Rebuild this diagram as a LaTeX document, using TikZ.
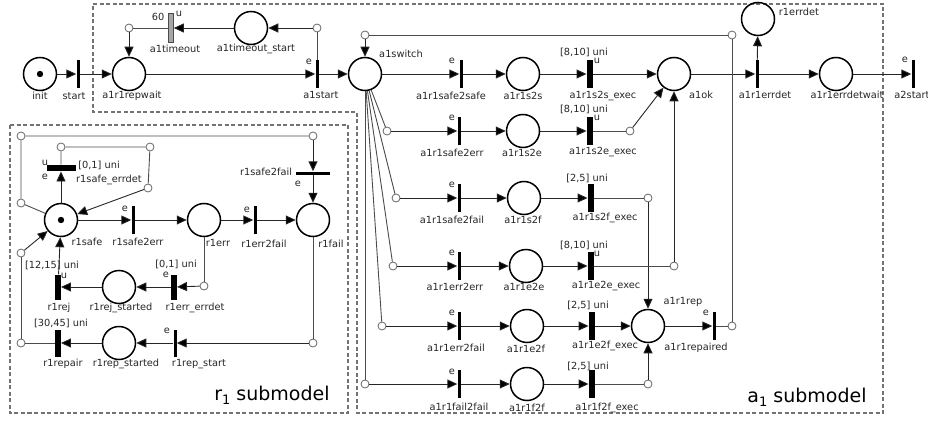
\documentclass[tikz,border=0pt]{standalone}
\usepackage{fontspec}
\setmainfont{DejaVu Sans}
\usetikzlibrary{arrows.meta}
\begin{document}
\begin{tikzpicture}[x=1pt,y=-1pt,
  place/.style={circle,draw=black,line width=1.5pt,minimum size=33pt,inner sep=0pt},
  junc/.style={circle,draw=black!60,fill=white,line width=0.8pt,minimum size=8pt,inner sep=0pt},
  trthin/.style={rectangle,fill=black,minimum width=3pt,minimum height=28pt,inner sep=0pt},
  trthick/.style={rectangle,fill=black,minimum width=6.5pt,minimum height=28pt,inner sep=0pt},
  trthinh/.style={rectangle,fill=black,minimum width=34pt,minimum height=3pt,inner sep=0pt},
  trthickh/.style={rectangle,fill=black,minimum width=29pt,minimum height=6.5pt,inner sep=0pt},
  arc/.style={draw=black!85,line width=0.9pt,-{Triangle[length=10pt,width=9pt,fill=black]}},
  seg/.style={draw=black!70,line width=0.9pt},
  lab/.style={font=\fontsize{9.8}{11}\selectfont,inner sep=0pt,text=black!85},
  big/.style={font=\fontsize{19}{21}\selectfont,inner sep=0pt,text=black},
  box/.style={draw=black!55,dash pattern=on 4pt off 2.5pt,line width=1.5pt}
]
\useasboundingbox (0,0) rectangle (928,420);
% submodel boxes
\draw[box] (93,4) -- (883,4) -- (883,413) -- (357,413) -- (357,112) -- (93,112) -- cycle;
\draw[box] (10,125) rectangle (348,413);

% ---------------- top part ----------------
\node[place] (init) at (40,74) {};
\fill (init.center) circle (3.2);
\node[trthin] (start) at (78,74) {};
\node[place] (a1r1repwait) at (129,74) {};
\node[trthin] (a1start) at (317,74) {};
\node[place] (a1timeoutstart) at (251,28) {};
\node[rectangle,draw=black!70,fill=black!35,minimum width=5pt,minimum height=29pt,inner sep=0pt,line width=0.6pt] (a1timeout) at (171,28) {};
\node[junc] (jrw) at (129,28) {};
\node[junc] (jst) at (317,28) {};

\draw[arc] (init) -- (start);
\draw[arc] (start) -- (a1r1repwait);
\draw[arc] (a1r1repwait) -- (a1start);
\draw[seg] (a1start) -- (jst);
\draw[arc] (jst) -- (a1timeoutstart);
\draw[arc] (a1timeoutstart) -- (a1timeout);
\draw[seg] (a1timeout) -- (jrw);
\draw[arc] (jrw) -- (a1r1repwait);

\node[lab] (l01) at (40,96) {init};
\node[lab] (l02) at (74,96) {start};
\node[lab] (l03) at (132,96) {a1r1repwait};
\node[lab] (l04) at (158,17) {60};
\node[lab] (l05) at (179,14) {u};
\node[lab] (l06) at (175,49) {a1timeout};
\node[lab] (l07) at (256,49) {a1timeout\_start};
\node[lab] (l08) at (309,62) {e};
\node[lab] (l09) at (321,95) {a1start};

% ---------------- a1 submodel ----------------
\node[place] (a1switch) at (365,74) {};
\node[junc] (jsw) at (365,35) {};
\node[junc] (jtr) at (732,35) {};
\draw[arc] (a1start) -- (a1switch);

% row 1
\node[trthin] (t11) at (461,74) {};
\node[place] (p12) at (523,74) {};
\node[trthick] (t13) at (590,74) {};
\node[place] (a1ok) at (674,74) {};
\node[trthin] (a1r1errdet) at (757,74) {};
\node[place] (a1r1errdetwait) at (836,74) {};
\node[trthin] (a2start) at (913,74) {};
\node[place] (r1errdet) at (758,19) {};
% row 2
\node[junc] (jf2) at (387,131) {};
\node[trthin] (t21) at (459,131) {};
\node[place] (p22) at (523,131) {};
\node[trthick] (t23) at (590,131) {};
\node[junc] (jx2) at (630,131) {};
% row 3
\node[junc] (jf3) at (396,198) {};
\node[trthin] (t31) at (459,198) {};
\node[place] (p32) at (524,198) {};
\node[trthick] (t33) at (591,198) {};
\node[junc] (jx3) at (648,198) {};
% row 4
\node[junc] (jf4) at (393,266) {};
\node[trthin] (t41) at (459,266) {};
\node[place] (p42) at (526,266) {};
\node[trthick] (t43) at (591,266) {};
\node[junc] (jx4) at (674,266) {};
% row 5
\node[junc] (jf5) at (382,326) {};
\node[trthin] (t51) at (459,326) {};
\node[place] (p52) at (527,326) {};
\node[trthick] (t53) at (592,326) {};
\node[place] (a1r1rep) at (648,326) {};
\node[trthin] (a1r1repaired) at (714,326) {};
\node[junc] (jrep) at (732,326) {};
% row 6
\node[junc] (jf6) at (365,384) {};
\node[trthin] (t61) at (459,384) {};
\node[place] (p62) at (527,384) {};
\node[trthick] (t63) at (592,384) {};
\node[junc] (jx6) at (648,384) {};

% arcs row 1
\draw[arc] (a1switch) -- (t11);
\draw[arc] (t11) -- (p12);
\draw[arc] (p12) -- (t13);
\draw[arc] (t13) -- (a1ok);
\draw[arc] (a1ok) -- (a1r1errdet);
\draw[arc] (a1r1errdet) -- (a1r1errdetwait);
\draw[arc] (a1r1errdetwait) -- (a2start);
\draw[arc] (a1r1errdet) -- (r1errdet);
% fan
\draw[seg] (a1switch) -- (jf2);
\draw[seg] (a1switch) -- (jf3);
\draw[seg] (a1switch) -- (jf4);
\draw[seg] (a1switch) -- (jf5);
\draw[seg] (a1switch) -- (jf6);
\draw[arc] (jf2) -- (t21);
\draw[arc] (jf3) -- (t31);
\draw[arc] (jf4) -- (t41);
\draw[arc] (jf5) -- (t51);
\draw[arc] (jf6) -- (t61);
% rows
\draw[arc] (t21) -- (p22);
\draw[arc] (p22) -- (t23);
\draw[seg] (t23) -- (jx2);
\draw[arc] (jx2) -- (a1ok);
\draw[arc] (t31) -- (p32);
\draw[arc] (p32) -- (t33);
\draw[seg] (t33) -- (jx3);
\draw[arc] (jx3) -- (a1r1rep);
\draw[arc] (t41) -- (p42);
\draw[arc] (p42) -- (t43);
\draw[seg] (t43) -- (jx4);
\draw[arc] (jx4) -- (a1ok);
\draw[arc] (t51) -- (p52);
\draw[arc] (p52) -- (t53);
\draw[arc] (t53) -- (a1r1rep);
\draw[arc] (a1r1rep) -- (a1r1repaired);
\draw[seg] (a1r1repaired) -- (jrep) -- (jtr) -- (jsw);
\draw[arc] (jsw) -- (a1switch);
\draw[arc] (t61) -- (p62);
\draw[arc] (p62) -- (t63);
\draw[seg] (t63) -- (jx6);
\draw[arc] (jx6) -- (a1r1rep);

% labels a1
\node[lab] (m01) at (401,54) {a1switch};
\node[lab] (m02) at (452,61) {e};
\node[lab] (m03) at (451,96) {a1r1safe2safe};
\node[lab] (m04) at (523,96) {a1r1s2s};
\node[lab] (m05) at (584,52) {[8,10] uni};
\node[lab] (m06) at (597,61) {u};
\node[lab] (m07) at (603,96) {a1r1s2s\_exec};
\node[lab] (m08) at (701,95) {a1ok};
\node[lab] (m09) at (765,95) {a1r1errdet};
\node[lab] (m10) at (847,95) {a1r1errdetwait};
\node[lab] (m11) at (905,60) {e};
\node[lab] (m12) at (912,95) {a2start};
\node[lab] (m13) at (799,12) {r1errdet};

\node[lab] (m21) at (452,118) {e};
\node[lab] (m22) at (452,153) {a1r1safe2err};
\node[lab] (m23) at (522,153) {a1r1s2e};
\node[lab] (m24) at (584,109) {[8,10] uni};
\node[lab] (m25) at (597,118) {u};
\node[lab] (m26) at (603,152) {a1r1s2e\_exec};

\node[lab] (m31) at (452,185) {e};
\node[lab] (m32) at (452,220) {a1r1safe2fail};
\node[lab] (m33) at (523,220) {a1r1s2f};
\node[lab] (m34) at (587,178) {[2,5] uni};
\node[lab] (m36) at (605,218) {a1r1s2f\_exec};

\node[lab] (m41) at (452,253) {e};
\node[lab] (m42) at (455,287) {a1r1err2err};
\node[lab] (m43) at (524,287) {a1r1e2e};
\node[lab] (m44) at (584,245) {[8,10] uni};
\node[lab] (m45) at (597,254) {u};
\node[lab] (m46) at (606,286) {a1r1e2e\_exec};

\node[lab] (m51) at (452,313) {e};
\node[lab] (m52) at (456,348) {a1r1err2fail};
\node[lab] (m53) at (526,349) {a1r1e2f};
\node[lab] (m54) at (588,305) {[2,5] uni};
\node[lab] (m56) at (605,346) {a1r1e2f\_exec};
\node[lab] (m57) at (683,302) {a1r1rep};
\node[lab] (m58) at (706,313) {e};
\node[lab] (m59) at (696,348) {a1r1repaired};

\node[lab] (m61) at (452,372) {e};
\node[lab] (m62) at (459,407) {a1r1fail2fail};
\node[lab] (m63) at (527,408) {a1r1f2f};
\node[lab] (m64) at (588,366) {[2,5] uni};
\node[lab] (m66) at (607,408) {a1r1f2f\_exec};

\node[big] (a1title) at (807,397) {a\raisebox{-0.35ex}{\fontsize{13}{13}\selectfont 1} submodel};

% ---------------- r1 submodel ----------------
\node[place] (r1safe) at (61,220) {};
\fill (r1safe.center) circle (3.2);
\node[trthin] (r1safe2err) at (133,220) {};
\node[place] (r1err) at (204,220) {};
\node[trthin] (r1err2fail) at (255,220) {};
\node[place] (r1fail) at (313,220) {};
\node[trthickh] (r1safeerrdet) at (61,168) {};
\node[trthinh] (r1safe2fail) at (313,173) {};
\node[trthick,minimum height=25pt,minimum width=5.5pt] (r1rej) at (58,287) {};
\node[place] (r1rejstarted) at (119,287) {};
\node[trthick,minimum height=25pt,minimum width=5.5pt] (r1errerrdet) at (174,287) {};
\node[trthick,minimum height=27pt,minimum width=5.5pt] (r1repair) at (58,343) {};
\node[place] (r1repstarted) at (119,343) {};
\node[trthin,minimum height=27pt] (r1repstart) at (175,343) {};

\node[junc] (jA) at (61,147) {};
\node[junc] (jB) at (150,147) {};
\node[junc] (jC) at (148,188) {};
\node[junc] (jD) at (21,136) {};
\node[junc] (jE) at (313,136) {};
\node[junc] (jF) at (21,203) {};
\node[junc] (jG) at (21,253) {};
\node[junc] (jH) at (21,343) {};
\node[junc] (jI) at (313,343) {};
\node[junc] (jJ) at (204,286) {};

\draw[arc] (r1safe) -- (r1safe2err);
\draw[arc] (r1safe2err) -- (r1err);
\draw[arc] (r1err) -- (r1err2fail);
\draw[arc] (r1err2fail) -- (r1fail);
\draw[arc] (r1safe) -- (r1safeerrdet);
\draw[seg] (r1safeerrdet) -- (jA) -- (jB) -- (jC);
\draw[arc] (jC) -- (r1safe);
\draw[seg] (r1safe) -- (jF) -- (jD) -- (jE);
\draw[arc] (jE) -- (r1safe2fail);
\draw[arc] (r1safe2fail) -- (r1fail);
\draw[seg] (r1fail) -- (jI);
\draw[arc] (jI) -- (r1repstart);
\draw[arc] (r1repstart) -- (r1repstarted);
\draw[arc] (r1repstarted) -- (r1repair);
\draw[seg] (r1repair) -- (jH) -- (jG);
\draw[arc] (jG) -- (r1safe);
\draw[seg] (r1err) -- (jJ);
\draw[arc] (jJ) -- (r1errerrdet);
\draw[arc] (r1errerrdet) -- (r1rejstarted);
\draw[arc] (r1rejstarted) -- (r1rej);
\draw[arc] (r1rej) -- (r1safe);

\node[lab] (n01) at (45,163) {u};
\node[lab] (n02) at (45,177) {e};
\node[lab] (n03) at (99,165) {[0,1] uni};
\node[lab] (n04) at (109,180) {r1safe\_errdet};
\node[lab] (n05) at (266,172) {r1safe2fail};
\node[lab] (n06) at (298,184) {e};
\node[lab] (n07) at (87,242) {r1safe};
\node[lab] (n08) at (125,209) {e};
\node[lab] (n09) at (138,242) {r1safe2err};
\node[lab] (n10) at (218,243) {r1err};
\node[lab] (n11) at (247,210) {e};
\node[lab] (n12) at (264,244) {r1err2fail};
\node[lab] (n13) at (331,244) {r1fail};
\node[lab] (n14) at (52,265) {[12,15] uni};
\node[lab] (n15) at (64,276) {u};
\node[lab] (n16) at (176,264) {[0,1] uni};
\node[lab] (n17) at (166,275) {e};
\node[lab] (n18) at (59,308) {r1rej};
\node[lab] (n19) at (121,308) {r1rej\_started};
\node[lab] (n20) at (195,308) {r1err\_errdet};
\node[lab] (n21) at (61,323) {[30,45] uni};
\node[lab] (n22) at (167,331) {e};
\node[lab] (n23) at (63,364) {r1repair};
\node[lab] (n24) at (126,364) {r1rep\_started};
\node[lab] (n25) at (199,364) {r1rep\_start};

\node[big] (r1title) at (272,395) {r\raisebox{-0.35ex}{\fontsize{13}{13}\selectfont 1} submodel};
\end{tikzpicture}
\end{document}
